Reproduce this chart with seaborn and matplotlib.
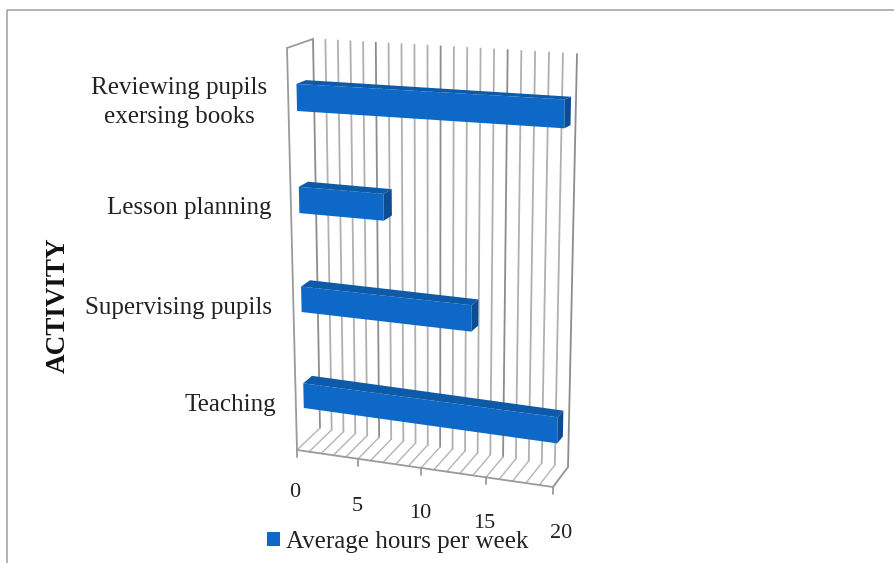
import matplotlib
matplotlib.use("Agg")
import matplotlib.pyplot as plt
import numpy as np
import pandas as pd
import seaborn as sns
from matplotlib.lines import Line2D
from matplotlib.patches import Polygon
from matplotlib.transforms import IdentityTransform, ScaledTranslation, Transform

activities = ["Reviewing pupils\nexersing books", "Lesson planning", "Supervising pupils", "Teaching"]
hours = [20, 6.7, 13.4, 19.9]
x_ticks = [0, 5, 10, 15, 20]
series_name = "Average hours per week"

WIDTH, HEIGHT = 894, 563
FRONT = np.array([[287, 48], [560, 60], [553, 487], [297, 450]], float)
BACK = np.array([[313, 39], [577, 54], [568, 467], [320, 428]], float)
FACE_DEPTH, REAR_DEPTH = 0.33, 0.7
CAT_TOP, CAT_BOTTOM = -0.5, 3.5
FONT = "Liberation Serif"


def homography(src, dst):
    rows, rhs = [], []
    for (x, y), (u, v) in zip(src, dst):
        rows.append([x, y, 1, 0, 0, 0, -u * x, -u * y])
        rows.append([0, 0, 0, x, y, 1, -v * x, -v * y])
        rhs += [u, v]
    return np.append(np.linalg.solve(np.array(rows), np.array(rhs)), 1).reshape(3, 3)


class Plane(Transform):
    # maps (value, category) on a slice of the fake 3d box to display pixels
    input_dims = 2
    output_dims = 2

    def __init__(self, depth):
        super().__init__()
        corners = FRONT + (BACK - FRONT) * depth
        corners[:, 1] = HEIGHT - corners[:, 1]
        src = [[0, CAT_TOP], [20, CAT_TOP], [20, CAT_BOTTOM], [0, CAT_BOTTOM]]
        self.h = homography(src, corners)

    def transform_non_affine(self, values):
        values = np.asarray(values, float)
        pts = np.column_stack([values, np.ones(len(values))]) @ self.h.T
        return pts[:, :2] / pts[:, 2:]


def project(v, c, d):
    return Plane(d).transform_non_affine([[v, c]])[0]


def segment(ax, a, b, color, lw=1.0, z=1):
    pts = np.array([project(*a), project(*b)])
    ax.plot(pts[:, 0], pts[:, 1], color=color, lw=lw, transform=IdentityTransform(),
            clip_on=False, zorder=z, solid_capstyle="round")


sns.set_theme(style="white")
plt.rcParams["font.family"] = [FONT, "DejaVu Serif"]

df = pd.DataFrame({"activity": activities, "hours": hours})

fig = plt.figure(figsize=(WIDTH / 100, HEIGHT / 100), dpi=100)
ax = fig.add_axes([297 / WIDTH, 1 - 450 / HEIGHT, 256 / WIDTH, 402 / HEIGHT])
sns.barplot(data=df, x="hours", y="activity", orient="y", color="#0e68c8", saturation=1,
            width=0.26, label=series_name, ax=ax, zorder=3)
ax.set_xlim(0, 20)
ax.set_ylim(CAT_BOTTOM, CAT_TOP)
ax.set_xticks(x_ticks)
ax.patch.set_visible(False)
sns.despine(ax=ax, left=True, bottom=True)
ax.tick_params(length=0)

# back wall and floor grid
for v in range(21):
    col = "#8c8c8c" if v % 5 == 0 else "#b0b0b0"
    segment(ax, (v, CAT_TOP, 1), (v, CAT_BOTTOM, 1), col, 1.3)
    segment(ax, (v, CAT_BOTTOM, 0), (v, CAT_BOTTOM, 1), "#b4b4b4", 1.0)

# left wall, front edge, right edge
wall = "#9a9a9a"
segment(ax, (0, CAT_TOP, 0), (0, CAT_TOP, 1), wall, 1.3)
segment(ax, (0, CAT_TOP, 0), (0, CAT_BOTTOM, 0), wall, 1.3)
segment(ax, (0, CAT_BOTTOM, 0), (20, CAT_BOTTOM, 0), wall, 1.3)
segment(ax, (20, CAT_BOTTOM, 0), (20, CAT_BOTTOM, 1), wall, 1.3)

# ticks under the front edge
for v in x_ticks:
    x0, y0 = project(v, CAT_BOTTOM, 0)
    ax.plot([x0, x0], [y0, y0 - 7], color=wall, lw=1.3, transform=IdentityTransform(), clip_on=False)

# turn the seaborn bars into boxes
for bar in list(ax.patches):
    v0, v1 = bar.get_x(), bar.get_x() + bar.get_width()
    c0, c1 = bar.get_y(), bar.get_y() + bar.get_height()
    c0, c1 = min(c0, c1), max(c0, c1)
    top = [project(v0, c0, FACE_DEPTH), project(v1, c0, FACE_DEPTH),
           project(v1, c0, REAR_DEPTH), project(v0, c0, REAR_DEPTH)]
    side = [project(v1, c0, FACE_DEPTH), project(v1, c1, FACE_DEPTH),
            project(v1, c1, REAR_DEPTH), project(v1, c0, REAR_DEPTH)]
    ax.add_patch(Polygon(top, closed=True, fc="#0d5aa8", ec="none", transform=IdentityTransform(), clip_on=False, zorder=3))
    ax.add_patch(Polygon(side, closed=True, fc="#0b4c92", ec="none", transform=IdentityTransform(), clip_on=False, zorder=3))
    bar.set_transform(Plane(FACE_DEPTH))
    bar.set_clip_on(False)
    bar.set_edgecolor("none")

# tick labels sit at staggered spots in the original
ax.set_xlabel("")
y_shift = [(-25, -2), (-21, 7), (-20, 6), (-16, 3)]
for lab, (dx, dy) in zip(ax.get_yticklabels(), y_shift):
    lab.set_fontsize(18)
    lab.set_color("#222222")
    lab.set_linespacing(1.4)
    lab.set_multialignment("center")
    lab.set_transform(lab.get_transform() + ScaledTranslation(dx / 100, -dy / 100, fig.dpi_scale_trans))
x_shift = [(-2, 28), (-4, 42), (-5, 49), (-5, 59), (8, 69)]
for lab, (dx, dy) in zip(ax.get_xticklabels(), x_shift):
    lab.set_fontsize(16)
    lab.set_color("#222222")
    lab.set_transform(lab.get_transform() + ScaledTranslation(dx / 100, -dy / 100, fig.dpi_scale_trans))

ax.set_ylabel("ACTIVITY", fontsize=19.5, fontweight="bold", color="#111111")
ax.yaxis.set_label_coords(71 / WIDTH, 1 - 305 / HEIGHT, transform=fig.transFigure)

leg = ax.legend(loc="center left", bbox_to_anchor=(267 / WIDTH, 1 - 542 / HEIGHT),
                bbox_transform=fig.transFigure, frameon=False, fontsize=18, labelcolor="#222222",
                handlelength=0.5, handleheight=0.5, handletextpad=0.25, borderpad=0, borderaxespad=0)

# picture frame
fig.add_artist(Line2D([7 / WIDTH, 7 / WIDTH, 1], [0, 1 - 10 / HEIGHT, 1 - 10 / HEIGHT], color="#a6a6a6", lw=1.2))

fig.savefig("out.png", dpi=100)
